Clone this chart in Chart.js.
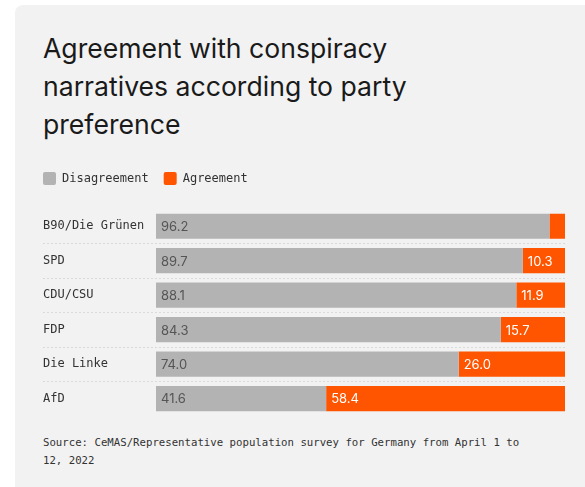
<!DOCTYPE html>
<html>
<head>
<meta charset="utf-8">
<script src="https://cdn.jsdelivr.net/npm/chart.js@4"></script>
<style>
  body { margin: 0; background: #ffffff; width: 585px; height: 487px; overflow: hidden; position: relative; }
  #card { position: absolute; left: 15px; top: 5px; width: 580px; height: 490px; background: #f2f2f2; border-top-left-radius: 8px; }
  #title { position: absolute; left: 43px; top: 29px; font-family: Inter, "Noto Sans", sans-serif; font-size: 26.6px; line-height: 38px; color: #1a1a1a; margin: 0; font-weight: 400; width: 400px; }
  #source { position: absolute; left: 43px; top: 434px; font-family: "DejaVu Sans Mono", monospace; font-size: 10.7px; line-height: 18px; color: #333; }
  #wrap { position: absolute; left: 15px; top: 157px; width: 570px; height: 269px; }
</style>
</head>
<body>
<div id="card"></div>
<h1 id="title">Agreement with conspiracy narratives according to party preference</h1>
<div id="wrap"><canvas id="myChart"></canvas></div>
<div id="source">Source: CeMAS/Representative population survey for Germany from April 1 to<br>12, 2022</div>
<script>
var parties = ["B90/Die Grünen", "SPD", "CDU/CSU", "FDP", "Die Linke", "AfD"];
var disagreement = [96.2, 89.7, 88.1, 84.3, 74.0, 41.6];
var agreement = [3.8, 10.3, 11.9, 15.7, 26.0, 58.4];
var seriesNames = ["Disagreement", "Agreement"];
var barColors = ["#b3b3b3", "#ff5500"];
var labelColors = ["#555555", "#ffffff"];

// legend: fixed height and flush with the category labels
var legendFix = {
  id: "legendFix",
  beforeInit: function(chart) {
    var fit = chart.legend.fit;
    chart.legend.fit = function() {
      fit.call(this);
      this.height = 52;
    };
  },
  afterLayout: function(chart) {
    chart.legend.left -= 15;
  }
};

// value labels inside the bars + dotted separators between rows
var extras = {
  id: "extras",
  afterDatasetsDraw: function(chart) {
    var ctx = chart.ctx;
    var y = chart.scales.y;
    var area = chart.chartArea;
    ctx.save();
    ctx.strokeStyle = "#dadada";
    ctx.lineWidth = 1;
    ctx.setLineDash([2, 2]);
    for (var i = 0; i < parties.length - 1; i++) {
      var py = Math.round((y.getPixelForValue(i) + y.getPixelForValue(i + 1)) / 2) + 0.5;
      ctx.beginPath();
      ctx.moveTo(28, py);
      ctx.lineTo(area.right, py);
      ctx.stroke();
    }
    ctx.setLineDash([]);
    ctx.font = "13px Inter, 'Noto Sans', sans-serif";
    ctx.textBaseline = "middle";
    ctx.textAlign = "left";
    chart.data.datasets.forEach(function(ds, di) {
      chart.getDatasetMeta(di).data.forEach(function(bar, i) {
        var left = Math.min(bar.x, bar.base);
        if (Math.abs(bar.x - bar.base) < 25) return;
        ctx.fillStyle = labelColors[di];
        ctx.fillText(ds.data[i].toFixed(1), left + 5, bar.y + 1);
      });
    });
    ctx.restore();
  }
};

new Chart("myChart", {
  type: "bar",
  data: {
    labels: parties,
    datasets: [{
      label: seriesNames[0],
      data: disagreement,
      backgroundColor: barColors[0]
    }, {
      label: seriesNames[1],
      data: agreement,
      backgroundColor: barColors[1]
    }]
  },
  options: {
    indexAxis: "y",
    responsive: true,
    maintainAspectRatio: false,
    animation: false,
    categoryPercentage: 1,
    barPercentage: 0.73,
    layout: { padding: { left: 28, right: 20, top: 0, bottom: 0 } },
    scales: {
      x: { stacked: true, min: 0, max: 100, display: false },
      y: {
        stacked: true,
        grid: { display: false },
        border: { display: false },
        afterFit: function(scale) { scale.width = 113; },
        ticks: {
          crossAlign: "far",
          color: "#333333",
          font: { family: "'DejaVu Sans Mono', monospace", size: 12 }
        }
      }
    },
    plugins: {
      tooltip: { enabled: false },
      legend: {
        position: "top",
        align: "start",
        labels: {
          boxWidth: 13,
          boxHeight: 13,
          padding: 15,
          useBorderRadius: true,
          borderRadius: 2,
          color: "#333333",
          font: { family: "'DejaVu Sans Mono', monospace", size: 12 }
        }
      }
    }
  },
  plugins: [legendFix, extras]
});
</script>
</body>
</html>
